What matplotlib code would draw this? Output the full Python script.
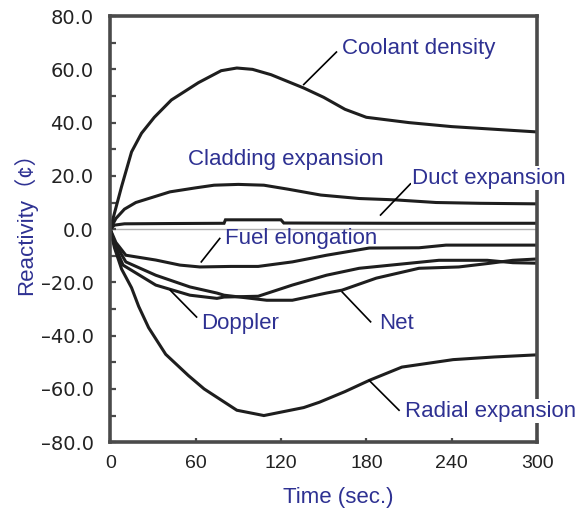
import matplotlib
matplotlib.use('Agg')
import matplotlib.pyplot as plt

# values (time in sec., reactivity in cents)
t_coolant = [0, 3, 8, 15, 22, 31, 43, 62, 78, 89, 100, 113, 136, 150, 165, 180, 210, 240, 270, 300]
r_coolant = [0, 6, 16, 29, 36, 42, 48.5, 55, 59.5, 60.5, 60, 58, 53, 49.5, 45, 42, 40, 38.5, 37.5, 36.5]

t_cladding = [0, 4, 10, 18, 30, 42, 60, 73, 90, 108, 125, 148, 175, 200, 229, 260, 300]
r_cladding = [0, 4, 7.5, 10, 12, 14, 15.5, 16.5, 16.8, 16.5, 15, 12.8, 11.5, 11, 10, 9.7, 9.5]

t_duct = [0, 3, 10, 40, 80, 81, 120, 122, 200, 300]
r_duct = [0, 1.5, 2, 2.1, 2.2, 3.5, 3.5, 2.3, 2.2, 2.2]

t_fuel = [0, 4, 11, 32, 49, 63, 85, 104, 128, 152, 182, 217, 236, 270, 300]
r_fuel = [0, -5, -9.8, -11.6, -13.5, -14.2, -14, -14, -12.3, -9.8, -7.1, -7, -6, -6, -6]

t_doppler = [0, 3, 9, 32, 56, 75, 80, 104, 128, 152, 175, 203, 231, 265, 283, 300]
r_doppler = [0, -6, -13.5, -21, -24.8, -26, -25.5, -25.2, -21, -17.3, -14.7, -13.2, -11.7, -11.7, -12.6, -12.8]

t_net = [0, 3, 11, 32, 56, 75, 80, 110, 128, 152, 163, 187, 217, 245, 267, 283, 300]
r_net = [0, -5, -12.3, -17.3, -21.7, -24, -24.8, -26.7, -26.7, -24, -22.9, -18.4, -14.7, -14.2, -12.8, -11.7, -11.2]

t_radial = [0, 3, 8, 15, 20, 27, 39, 55, 66, 89, 108, 136, 147, 165, 182, 205, 241, 270, 300]
r_radial = [0, -7, -15, -22, -29, -37, -47, -55, -60, -68, -70, -67, -65, -61, -56.8, -51.8, -49, -48, -47.2]

y_ticks = [-80, -60, -40, -20, 0, 20, 40, 60, 80]
x_ticks = [0, 60, 120, 180, 240, 300]

navy = '#2e3192'
line_c = '#1e1e1e'
frame_c = '#4a4a4a'

fig = plt.figure(figsize=(5.8, 5.19), dpi=100)
ax = fig.add_axes([0.19, 0.148, 0.736, 0.821])

ax.axhline(0, color='#b0b0b0', lw=1.0, zorder=1)

for t, r in [(t_coolant, r_coolant), (t_cladding, r_cladding), (t_duct, r_duct),
             (t_fuel, r_fuel), (t_doppler, r_doppler), (t_net, r_net),
             (t_radial, r_radial)]:
    ax.plot(t, r, color=line_c, lw=2.2, solid_joinstyle='miter', zorder=2)

ax.set_xlim(0, 300)
ax.set_ylim(-80, 80)

for s in ax.spines.values():
    s.set_color(frame_c)
    s.set_linewidth(2.6)

ax.set_yticks(y_ticks)
ax.set_yticklabels([f"{v:.1f}".replace('-', '\u2013') for v in y_ticks],
                   family='DejaVu Sans', fontsize=14, color='#222222')
ax.set_yticks(range(-70, 80, 20), minor=True)
ax.set_xticks(x_ticks)
ax.set_xticklabels([str(v) for v in x_ticks], family='Liberation Sans',
                   fontsize=14, color='#222222')
ax.tick_params(axis='y', which='both', direction='in', length=4, width=1.6,
               color=frame_c, pad=12)
ax.tick_params(axis='x', direction='in', length=3, width=1.6,
               color=frame_c, pad=9)

# curve labels with leader lines
lab = dict(color=navy, fontsize=16, family='Liberation Sans', va='center',
           ha='left', clip_on=False)
ax.text(163, 68, 'Coolant density', **lab)
ax.plot([159, 136], [66.5, 54.3], color='black', lw=1.2)

ax.text(55, 26, 'Cladding expansion', **lab)

ax.text(212, 19.2, 'Duct expansion',
        bbox=dict(facecolor='white', edgecolor='none', pad=1), zorder=5, **lab)
ax.plot([211, 190], [17, 5.3], color='black', lw=1.2)

ax.text(80.5, -3.4, 'Fuel elongation', **lab)
ax.plot([77, 64], [-3.5, -12.3], color='black', lw=1.2)

ax.text(64, -35.3, 'Doppler', **lab)
ax.plot([60.7, 42.3], [-33, -23], color='black', lw=1.2)

ax.text(189, -35.3, 'Net', **lab)
ax.plot([183, 163], [-34.8, -23.6], color='black', lw=1.2)

ax.text(207, -68.4, 'Radial expansion',
        bbox=dict(facecolor='white', edgecolor='none', pad=1), zorder=5, **lab)
ax.plot([203, 182], [-68, -56.8], color='black', lw=1.2)

fig.text(0.043, 1 - 218 / 519, 'Reactivity\uff08\u00a2\uff09', rotation=90, color=navy,
         fontsize=16, family=['Liberation Sans', 'Noto Sans CJK JP'],
         ha='center', va='center')
fig.text(338 / 580, 1 - 497 / 519, 'Time (sec.)', color=navy,
         fontsize=16, family='Liberation Sans', ha='center', va='center')

fig.savefig('out.png', dpi=100)
